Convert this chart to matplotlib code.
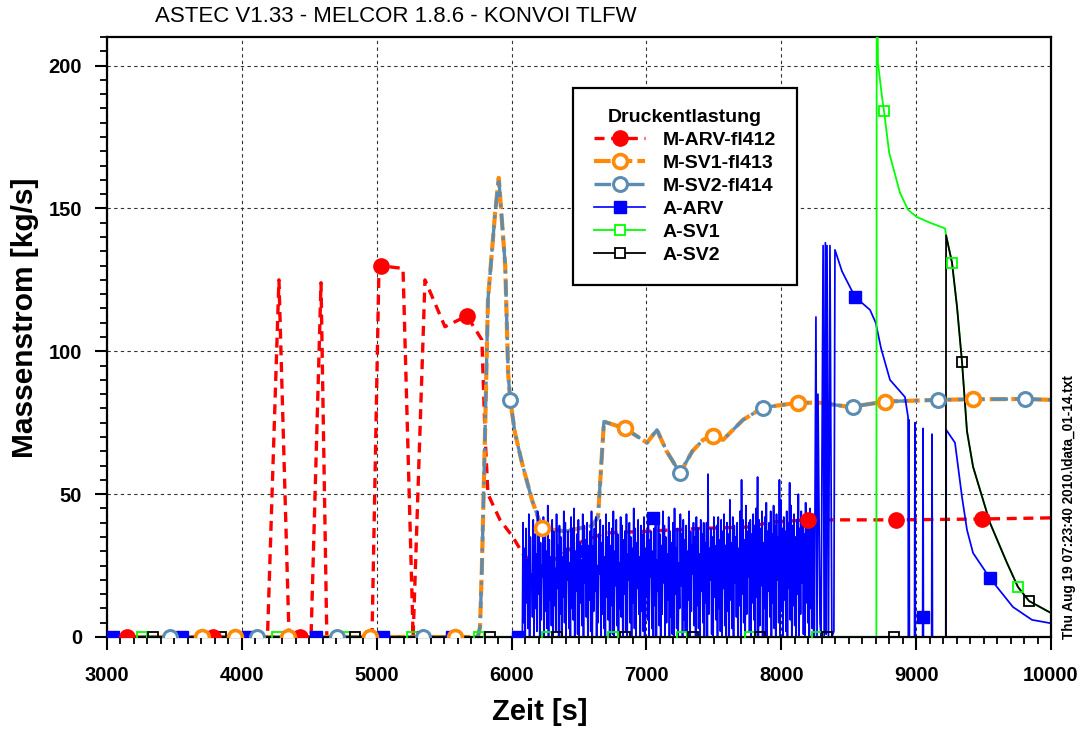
import matplotlib
matplotlib.use("Agg")
import matplotlib.pyplot as plt
import numpy as np
from matplotlib.lines import Line2D
from matplotlib.ticker import MultipleLocator

plt.rcParams['font.family'] = ['Liberation Sans', 'DejaVu Sans']
plt.rcParams['font.weight'] = 'bold'

# ---- MELCOR curves ----
m_arv_x = [3000, 4190, 4275, 4350, 4513, 4587, 4630, 4965, 5017, 5195, 5270, 5358,
           5506, 5669, 5780, 5803, 5825, 5914, 6010, 6085, 6200, 6350, 6500, 6693,
           7000, 7400, 7768, 7916, 8198, 8500, 8850, 9488, 10000]
m_arv_y = [0, 0, 125, 0, 0, 124, 0, 0, 130, 129, 0, 125,
           108.6, 112.4, 104, 71, 50, 41, 35, 29, 24, 28, 33, 36.4,
           37, 38, 38.5, 40.2, 41, 41, 41, 41.3, 41.7]
m_arv_mx = [3150, 3787, 4431, 5030, 5669, 8198, 8850, 9488]
m_arv_my = [0, 0, 0, 130, 112.4, 41, 41, 41.3]

m_sv_x = [3000, 5750, 5766, 5780, 5803, 5825, 5877, 5905, 5953, 5975, 5990, 6025,
          6077, 6151, 6225, 6400, 6600, 6641, 6685, 6841, 7004, 7078, 7150, 7249,
          7340, 7420, 7493, 7568, 7716, 7865, 8124, 8287, 8509, 8770, 9163, 9420,
          9807, 10000]
m_sv_y = [0, 0, 3.5, 24.5, 71, 118, 148, 160.7, 130, 92, 83, 71.5,
          61, 48, 38, 37, 39, 42, 75.4, 73, 68, 72.5, 65, 57.4,
          65, 69, 70.4, 69, 76, 80.3, 82, 82, 80.5, 82.4, 83, 83.2,
          83.3, 83]
m_sv1_mx = [3705, 3950, 4342, 4950, 5580, 6225, 6841, 7493, 8124, 8770, 9420]
m_sv2_mx = [3467, 4112, 4706, 5343, 5990, 7249, 7865, 8532, 9163, 9807]

# ---- ASTEC curves ----
# A-ARV oscillation 6085..8240 s: successive maxima and minima
arv_noise_hi = [40, 31, 38, 27, 43, 35, 22, 41, 36, 29, 44, 38, 33, 25, 42, 39, 30, 46, 34, 28,
                41, 37, 24, 43, 32, 39, 35, 28, 44, 40, 31, 37, 26, 42, 38, 45, 30, 36, 41, 33,
                27, 43, 39, 34, 40, 29, 37, 44, 31, 38, 42, 25, 36, 41, 33, 39, 28, 43, 35, 40,
                32, 38, 44, 30, 41, 36, 26, 42, 39, 34, 37, 43, 29, 40, 35, 31, 45, 38, 33, 41,
                28, 39, 36, 42, 31, 37, 40, 34, 37, 30, 38, 43, 27, 41, 36, 32, 44, 39, 35, 29,
                42, 37, 33, 40, 45, 31, 38, 26, 43, 36, 41, 34, 39, 30, 44, 37, 32, 40, 35, 42,
                38, 29, 41, 36, 40, 33, 40, 57, 31, 38, 35, 42, 30, 39, 42, 34, 41, 37, 43, 32,
                40, 36, 48, 33, 42, 39, 35, 40, 31, 44, 55, 41, 34, 46, 37, 40, 41, 36, 43, 39,
                45, 56, 41, 38, 44, 33, 42, 47, 37, 40, 44, 36, 46, 39, 43, 35, 55, 48, 38, 42,
                37, 44, 40, 54, 46, 39, 43, 35, 41, 50, 38, 44, 40, 36, 47, 42, 39, 45, 41, 43]
arv_noise_lo = [5, 0, 12, 3, 0, 18, 7, 0, 10, 2, 15, 0, 6, 21, 0, 9, 3, 0, 13, 4,
                0, 11, 2, 17, 0, 8, 0, 14, 5, 0, 20, 3, 0, 10, 6, 0, 16, 1, 0, 12,
                4, 0, 19, 7, 0, 13, 2, 0, 9, 16, 0, 5, 22, 0, 8, 3, 0, 14, 6, 0,
                11, 1, 0, 18, 4, 0, 10, 7, 0, 15, 2, 0, 20, 5, 0, 12, 3, 0, 17, 8,
                0, 9, 2, 0, 14, 6, 0, 21, 3, 0, 11, 0, 16, 4, 0, 8, 19, 0, 5, 13,
                0, 7, 1, 0, 15, 3, 0, 10, 18, 0, 6, 2, 0, 13, 0, 9, 22, 4, 0, 11,
                3, 0, 16, 5, 0, 12, 0, 8, 20, 1, 0, 14, 6, 0, 10, 2, 0, 17, 4, 0,
                9, 0, 13, 3, 0, 19, 7, 0, 11, 0, 15, 5, 0, 8, 21, 2, 0, 12, 6, 0,
                14, 0, 4, 18, 0, 10, 1, 0, 16, 7, 0, 12, 3, 0, 20, 5, 0, 9, 0, 13,
                2, 0, 17, 6, 0, 11, 4, 0, 15, 0, 8, 19, 1, 0, 12, 5, 0, 10, 3, 0]
arv_noise_t0, arv_noise_t1 = 6085, 8240
arv_tail_x = [8245, 8257, 8265, 8272, 8287, 8295, 8310, 8318, 8327, 8333, 8339, 8350,
              8361, 8375, 8390, 8398, 8450, 8547, 8658, 8700, 8740, 8806, 8917, 8940, 8944,
              8947, 8950, 8988, 8991, 8994, 9048, 9051, 9054, 9115, 9118, 9121, 9222,
              9223, 9288, 9340, 9377, 9422, 9547, 9718, 9859, 10000]
arv_tail_y = [0, 112, 0, 85, 5, 0, 137, 0, 138, 1, 137, 0,
              137, 0, 2, 135.5, 128, 119, 114.5, 110, 101, 90, 84, 77, 0,
              76, 0, 0, 75, 0, 0, 73, 0, 0, 71, 0, 0,
              72.5, 68, 49, 37.5, 29.4, 20.6, 10.5, 6, 4.8]
arv_mx = [3045, 3556, 4045, 4550, 5046, 5558, 6048, 6560, 7048, 7550, 8050, 8547, 9051, 9547]
arv_my = [0, 0, 0, 0, 0, 0, 0, 30, 41.7, 30, 30, 119, 7, 20.6]

sv1_x = [3000, 8705, 8708, 8717, 8747, 8762, 8800, 8880, 8940, 9005, 9103, 9214,
         9222, 9266, 9303, 9340, 9377, 9422, 9547, 9673, 9755, 9837, 10000]
sv1_y = [0, 0, 250, 201, 189, 184, 169.5, 155.5, 149.5, 147, 145, 143,
         140.6, 131, 115.6, 96.3, 72, 59.6, 40, 26, 17.5, 12.6, 8.4]
sv1_mx = [3257, 3764, 4260, 4765, 5262, 5758, 6262, 6752, 7264, 7768, 8265, 8762, 9266, 9755]
sv1_my = [0, 0, 0, 0, 0, 0, 0, 0, 0, 0, 0, 184, 131, 17.5]

sv2_x = [3000, 9220, 9222, 9266, 9303, 9340, 9377, 9422, 9547, 9673, 9755, 9837, 10000]
sv2_y = [0, 0, 140.6, 131, 115.6, 96.3, 72, 59.6, 40, 26, 17.5, 12.6, 8.4]
sv2_mx = [3341, 3845, 4342, 4840, 5343, 5840, 6337, 6841, 7345, 7843, 8339, 8836, 9340, 9837]
sv2_my = [0, 0, 0, 0, 0, 0, 0, 0, 0, 0, 0, 0, 96.3, 12.6]

# build A-ARV series
n = len(arv_noise_hi)
t_noise = np.linspace(arv_noise_t0, arv_noise_t1, 2 * n)
v_noise = np.empty(2 * n)
v_noise[0::2] = arv_noise_hi
v_noise[1::2] = arv_noise_lo
arv_x = np.concatenate([[3000, 6080], t_noise, arv_tail_x])
arv_y = np.concatenate([[0, 0], v_noise, arv_tail_y])

RED = '#ff0000'
ORANGE = '#ff8a0a'
STEEL = '#5b8db2'
BLUE = '#0000ff'
GREEN = '#00ff00'

fig = plt.figure(figsize=(10.88, 7.31), dpi=100)
ax = fig.add_axes([107 / 1088, 94 / 731, 944 / 1088, 600 / 731])

red_ls = (0, (3, 2))
orange_ls = (0, (4, 1.2))
steel_ls = (0, (5, 2, 1, 2))

ax.plot(m_arv_x, m_arv_y, color=RED, lw=2.4, ls=red_ls, zorder=2)
ax.plot(m_sv_x, m_sv_y, color=ORANGE, lw=3.0, ls=orange_ls, zorder=2.1)
ax.plot(m_sv_x, m_sv_y, color=STEEL, lw=2.4, ls=steel_ls, zorder=2.2)

ax.plot(arv_x, arv_y, color=BLUE, lw=1.25, zorder=2.5)
ax.plot(sv1_x, sv1_y, color=GREEN, lw=1.3, zorder=2.6)
ax.plot(sv2_x, sv2_y, color='black', lw=1.3, zorder=2.7)

# markers
ax.plot(arv_mx, arv_my, ls='none', marker='s', ms=8, color=BLUE, zorder=3)
ax.plot(sv1_mx, sv1_my, ls='none', marker='s', ms=7.5, mfc='none', mec=GREEN, mew=1.3, zorder=3.1)
ax.plot(sv2_mx, sv2_my, ls='none', marker='s', ms=7.5, mfc='none', mec='black', mew=1.3, zorder=3.2)
ax.plot(m_arv_mx, m_arv_my, ls='none', marker='o', ms=11, color=RED, zorder=3.3)
ax.plot(m_sv1_mx, np.interp(m_sv1_mx, m_sv_x, m_sv_y), ls='none', marker='o', ms=10,
        mfc='white', mec=ORANGE, mew=2.6, zorder=3.4)
ax.plot(m_sv2_mx, np.interp(m_sv2_mx, m_sv_x, m_sv_y), ls='none', marker='o', ms=10,
        mfc='white', mec=STEEL, mew=2.2, zorder=3.5)

ax.set_xlim(3000, 10000)
ax.set_ylim(0, 210)
ax.xaxis.set_major_locator(MultipleLocator(1000))
ax.xaxis.set_minor_locator(MultipleLocator(100))
ax.yaxis.set_major_locator(MultipleLocator(50))
ax.yaxis.set_minor_locator(MultipleLocator(5))
ax.tick_params(which='major', direction='out', length=9, width=1.5, labelsize=14.5)
ax.tick_params(axis='x', which='major', pad=12)
ax.tick_params(axis='y', which='major', pad=9)
ax.tick_params(which='minor', direction='out', length=5, width=1.3)
for lbl in ax.get_xticklabels() + ax.get_yticklabels():
    lbl.set_fontweight('bold')
for s in ax.spines.values():
    s.set_linewidth(1.6)
ax.grid(True, which='major', color='#333333', ls=(0, (3, 3)), lw=0.8, zorder=1)
ax.set_axisbelow(True)

handles = [
    Line2D([], [], color=RED, lw=2.4, ls=red_ls, marker='o', ms=11),
    Line2D([], [], color=ORANGE, lw=3.0, ls=orange_ls, marker='o', ms=10, mfc='white', mew=2.6),
    Line2D([], [], color=STEEL, lw=2.4, ls=steel_ls, marker='o', ms=10, mfc='white', mew=2.2),
    Line2D([], [], color=BLUE, lw=1.2, marker='s', ms=8),
    Line2D([], [], color=GREEN, lw=1.3, marker='s', ms=7.5, mfc='white', mew=1.3),
    Line2D([], [], color='black', lw=1.3, marker='s', ms=7.5, mfc='white', mew=1.3),
]
labels = ['M-ARV-fl412', 'M-SV1-fl413', 'M-SV2-fl414', 'A-ARV', 'A-SV1', 'A-SV2']
leg = ax.legend(handles, labels, title='Druckentlastung', loc='upper left',
                bbox_to_anchor=(0.4936, 0.915), borderaxespad=0, fancybox=False,
                framealpha=1, edgecolor='black', fontsize=14, title_fontsize=14,
                handlelength=2.6, labelspacing=0.27, borderpad=1.1, handletextpad=0.9)
leg.get_frame().set_linewidth(1.6)
leg.get_title().set_fontweight('bold')
leg.set_zorder(5)

fig.text(155 / 1088, 1 - 17 / 731, 'ASTEC V1.33 - MELCOR 1.8.6 - KONVOI TLFW',
         ha='left', va='center', fontsize=16, fontweight='normal')
fig.text(25 / 1088, 1 - 318 / 731, 'Massenstrom [kg/s]', rotation=90,
         ha='center', va='center', fontsize=21.5, fontweight='bold')
fig.text(540 / 1088, 1 - 712 / 731, 'Zeit [s]', ha='center', va='center',
         fontsize=21, fontweight='bold')
fig.text(1069 / 1088, 1 - 507 / 731, 'Thu Aug 19 07:23:40 2010.\\data_01-14.txt',
         rotation=90, ha='center', va='center', fontsize=9.8, fontweight='bold')

fig.savefig('out.png', dpi=100)
